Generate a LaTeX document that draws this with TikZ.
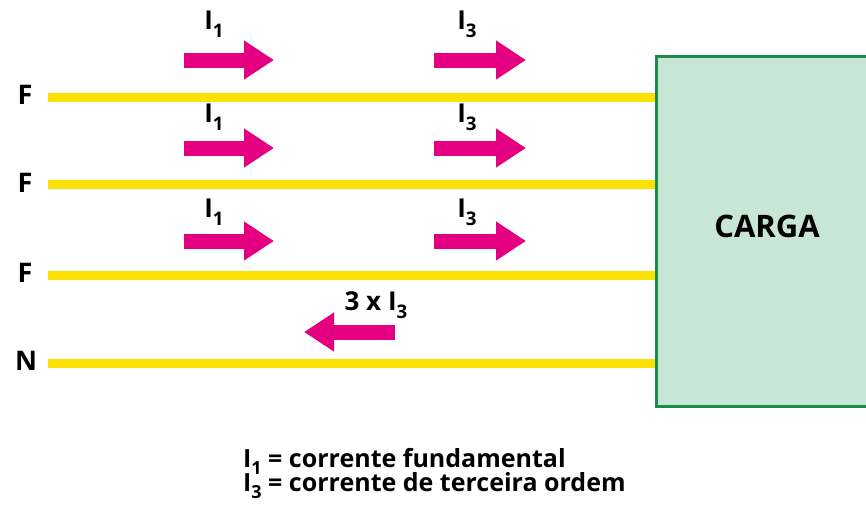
\documentclass[tikz,border=0pt]{standalone}
\usepackage{fontspec}
\setmainfont{Open Sans}
\usetikzlibrary{arrows.meta}
\definecolor{wire}{RGB}{250,225,0}
\definecolor{curr}{RGB}{228,0,128}
\definecolor{loadfill}{RGB}{200,230,212}
\definecolor{loadline}{RGB}{25,140,75}
\newcommand{\lowsub}[1]{\raisebox{-0.3em}{\scalebox{0.72}{#1}}}
\tikzset{
  lbl/.style={font=\bfseries\fontsize{27}{30}\selectfont, inner sep=0pt},
  sym/.style={font=\bfseries\fontsize{26}{28}\selectfont, inner sep=0pt},
  legend/.style={font=\bfseries\fontsize{25}{27}\selectfont, inner sep=0pt, anchor=base west},
  title/.style={font=\bfseries\fontsize{31}{33}\selectfont, inner sep=0pt},
  wireline/.style={wire, line width=9pt},
  bigarrow/.style={curr, line width=15pt, -{Triangle[length=30pt,width=37pt]}},
  loadbox/.style={draw=loadline, fill=loadfill, line width=3pt, minimum width=216pt, minimum height=350pt, anchor=north west, inner sep=0pt},
}
\begin{document}
\begin{tikzpicture}[x=1pt,y=-1pt]
\clip (0,0) rectangle (866,504);
\fill[white] (0,0) rectangle (866,504);
\node[loadbox] (box) at (655,55) {};
\node[title] (carga) at (767,226) {CARGA};
% phase labels
\node[lbl] (F1) at (25,95) {F};
\node[lbl] (F2) at (25,183) {F};
\node[lbl] (F3) at (25,273) {F};
\node[lbl] (N) at (26,361) {N};
% wires
\foreach \w/\y in {F1/97,F2/184,F3/275,N/363}{
  \draw[wireline] (48,\y) -- (box.west |- 0,\y);
}
% arrows coordinates
\coordinate (a1s) at (184,60);  \coordinate (a1e) at (274,60);
\coordinate (b1s) at (434,60);  \coordinate (b1e) at (526,60);
\coordinate (a2s) at (184,148); \coordinate (a2e) at (274,148);
\coordinate (b2s) at (434,148); \coordinate (b2e) at (526,148);
\coordinate (a3s) at (184,241); \coordinate (a3e) at (274,241);
\coordinate (b3s) at (434,241); \coordinate (b3e) at (526,241);
\coordinate (ns) at (395,332);  \coordinate (ne) at (304,332);
\foreach \s/\e in {a1s/a1e,b1s/b1e,a2s/a2e,b2s/b2e,a3s/a3e,b3s/b3e,ns/ne}{
  \draw[bigarrow] (\s) -- (\e);
}
% current labels
\node[sym] (i1a) at (214,24) {I\lowsub{1}};
\node[sym] (i3a) at (467,24) {I\lowsub{3}};
\node[sym] (i1b) at (214,117) {I\lowsub{1}};
\node[sym] (i3b) at (467,117) {I\lowsub{3}};
\node[sym] (i1c) at (214,212) {I\lowsub{1}};
\node[sym] (i3c) at (467,212) {I\lowsub{3}};
\node[sym] (n3) at (376,305) {3 x I\lowsub{3}};
% legend
\node[legend] (leg1) at (243,467) {I\lowsub{1} = corrente fundamental};
\node[legend] (leg2) at (243,491) {I\lowsub{3} = corrente de terceira ordem};
\end{tikzpicture}
\end{document}
